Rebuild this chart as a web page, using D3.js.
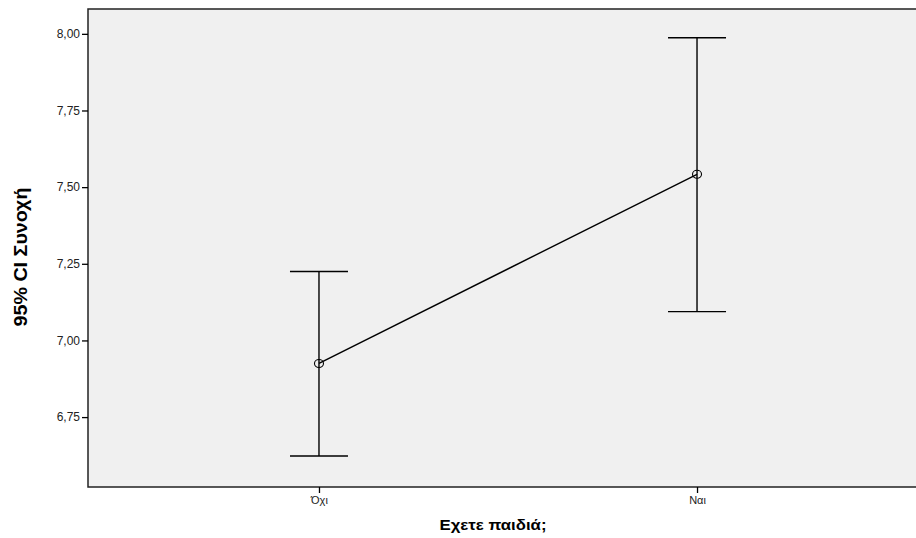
<!DOCTYPE html>
<html><head><meta charset="utf-8">
<script src="https://cdn.jsdelivr.net/npm/d3@7"></script>
<style>body{margin:0;background:#fff}svg{display:block}</style>
</head><body>
<svg id="c" width="916" height="538"></svg>
<script>
const categories = ["Όχι", "Ναι"];
const means = [6.925, 7.542];
const lower = [6.623, 7.094];
const upper = [7.225, 7.987];
const yTicks = [6.75, 7.00, 7.25, 7.50, 7.75, 8.00];
const xTitle = "Εχετε παιδιά;";
const yTitle = "95% CI Συνοχή";

const svg = d3.select("#c");
const L = 88, T = 9, B = 487, R = 928;
const x = d3.scalePoint().domain(categories).range([L, R]).padding(0.611);
const y = d3.scaleLinear().domain([6.522, 8.081]).range([B, T]);

svg.append("rect").attr("x", L).attr("y", T).attr("width", R - L).attr("height", B - T)
  .attr("fill", "#f0f0f0").attr("stroke", "#222").attr("stroke-width", 1.5);

const fmt = v => v.toFixed(2).replace(".", ",");
const yAxis = d3.axisLeft(y).tickValues(yTicks).tickFormat(fmt).tickSize(6).tickPadding(2);
const gy = svg.append("g").attr("transform", `translate(${L},0)`).call(yAxis);
gy.select(".domain").remove();
gy.selectAll(".tick line").attr("stroke", "#000").attr("stroke-width", 1.3);
gy.selectAll(".tick text").attr("font-family", "Liberation Sans, Arial, sans-serif").attr("font-size", 12).attr("fill", "#222");

const xAxis = d3.axisBottom(x).tickSize(6).tickPadding(3);
const gx = svg.append("g").attr("transform", `translate(0,${B})`).call(xAxis);
gx.select(".domain").remove();
gx.selectAll(".tick line").attr("stroke", "#000").attr("stroke-width", 1.3);
gx.selectAll(".tick text").attr("font-family", "Liberation Sans, Arial, sans-serif").attr("font-size", 11).attr("fill", "#222");

const cap = 29;
const g = svg.append("g").attr("stroke", "#000").attr("stroke-width", 1.4).attr("fill", "none");
categories.forEach((c, i) => {
  const cx = x(c);
  g.append("line").attr("x1", cx).attr("x2", cx).attr("y1", y(upper[i])).attr("y2", y(lower[i]));
  g.append("line").attr("x1", cx - cap).attr("x2", cx + cap).attr("y1", y(upper[i])).attr("y2", y(upper[i]));
  g.append("line").attr("x1", cx - cap).attr("x2", cx + cap).attr("y1", y(lower[i])).attr("y2", y(lower[i]));
});
g.append("path").attr("d", d3.line().x((d, i) => x(categories[i])).y(d => y(d))(means));
categories.forEach((c, i) => {
  g.append("ellipse").attr("cx", x(c)).attr("cy", y(means[i])).attr("rx", 4.5).attr("ry", 4).attr("fill", "none").attr("stroke-width", 1.1);
});

svg.append("text").attr("x", 493).attr("y", 530).attr("text-anchor", "middle")
  .attr("font-family", "Liberation Sans, Arial, sans-serif").attr("font-weight", "bold").attr("font-size", 14)
  .attr("textLength", 107).attr("lengthAdjust", "spacingAndGlyphs").attr("fill", "#000").text(xTitle);
svg.append("text").attr("transform", `translate(27,257) rotate(-90)`).attr("text-anchor", "middle")
  .attr("font-family", "Liberation Sans Narrow, Arial Narrow, Liberation Sans, sans-serif").attr("font-weight", "bold").attr("font-size", 18)
  .attr("textLength", 139).attr("lengthAdjust", "spacingAndGlyphs").attr("fill", "#000").text(yTitle);
</script>
</body></html>
